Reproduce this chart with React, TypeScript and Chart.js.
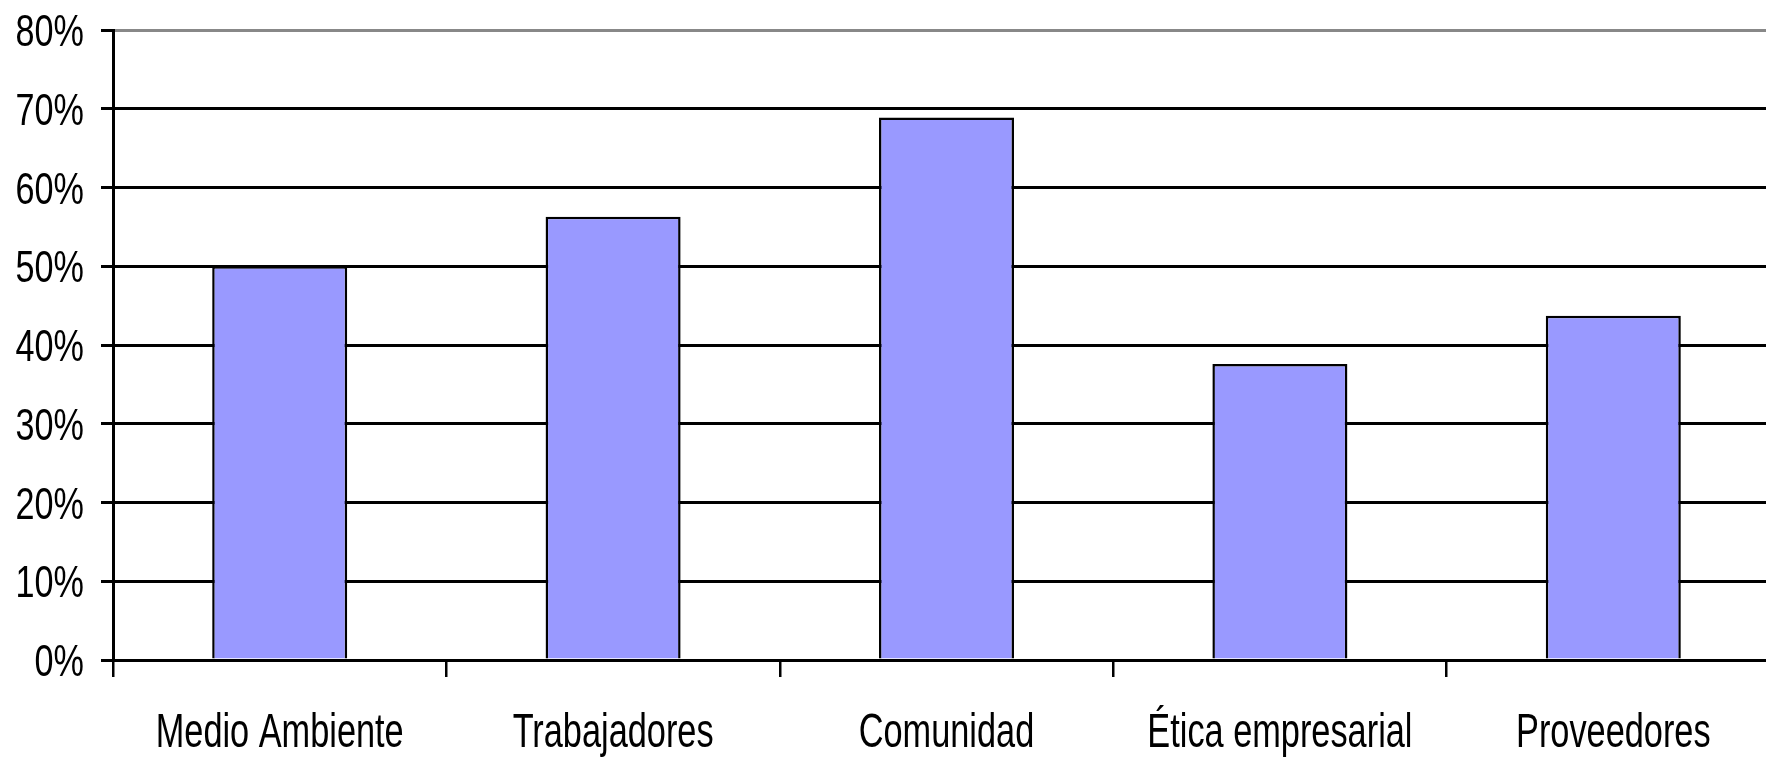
import React, { useEffect, useRef } from "react";
import { Chart, registerables } from "chart.js";

Chart.register(...registerables);

const categories = ["Medio Ambiente", "Trabajadores", "Comunidad", "Ética empresarial", "Proveedores"];
const values = [50, 56.3, 68.9, 37.6, 43.7];
const yMin = 0;
const yMax = 80;
const yStep = 10;

const FONT = '"Liberation Sans", Arial, sans-serif';

const labelPlugin = {
  id: "narrowLabels",
  afterDraw(chart: any) {
    const ctx = chart.ctx;
    const xs = chart.scales.x;
    const ys = chart.scales.y;
    ctx.save();
    ctx.fillStyle = "#000";
    ctx.textBaseline = "alphabetic";
    // x labels
    ctx.font = `48px ${FONT}`;
    ctx.textAlign = "center";
    const labels = chart.data.labels as string[];
    xs.ticks.forEach((_t: any, i: number) => {
      const px = xs.getPixelForTick(i);
      ctx.save();
      ctx.translate(px, xs.bottom - 10);
      ctx.scale(0.715, 1);
      ctx.fillText(labels[i], 0, 0);
      ctx.restore();
    });
    // y labels
    ctx.font = `45px ${FONT}`;
    ctx.textAlign = "right";
    ys.ticks.forEach((t: any, i: number) => {
      const py = ys.getPixelForTick(i);
      ctx.save();
      ctx.translate(84, py + 16);
      ctx.scale(0.76, 1);
      ctx.fillText(t.value + "%", 0, 0);
      ctx.restore();
    });
    ctx.restore();
  },
};

export default function App() {
  const ref = useRef<HTMLCanvasElement | null>(null);
  useEffect(() => {
    if (!ref.current) return;
    const chart = new Chart(ref.current, {
      type: "bar",
      data: {
        labels: categories,
        datasets: [
          {
            data: values,
            backgroundColor: "#9999FF",
            borderColor: "#000000",
            borderWidth: 2.5,
            categoryPercentage: 1,
            barPercentage: 0.405,
          },
        ],
      },
      plugins: [labelPlugin],
      options: {
        responsive: false,
        animation: false,
        layout: { padding: { top: 30, right: 0, left: 0, bottom: 0 } },
        plugins: { legend: { display: false }, tooltip: { enabled: false } },
        scales: {
          x: {
            afterFit: (scale: any) => {
              scale.height = 97;
            },
            grid: {
              offset: true,
              drawOnChartArea: false,
              drawTicks: true,
              tickLength: 17,
              color: "#000",
              lineWidth: 2.5,
            },
            border: { display: true, color: "#000", width: 3 },
            ticks: { display: false, autoSkip: false },
          },
          y: {
            min: yMin,
            max: yMax,
            afterFit: (scale: any) => {
              scale.width = 113;
            },
            grid: {
              color: (ctx: any) => (ctx.tick && ctx.tick.value === yMax ? "#888888" : "#000000"),
              tickColor: "#000000",
              lineWidth: 3,
              drawTicks: true,
              tickLength: 12,
            },
            border: { display: true, color: "#000", width: 3 },
            ticks: { display: false, stepSize: yStep },
          },
        },
      },
    });
    return () => chart.destroy();
  }, []);
  return (
    <div style={{ position: "fixed", left: 0, top: 0, width: 1766, height: 757, overflow: "hidden", background: "#fff" }}>
      <canvas ref={ref} width={1780} height={757} style={{ width: 1780, height: 757, display: "block" }} />
    </div>
  );
}
